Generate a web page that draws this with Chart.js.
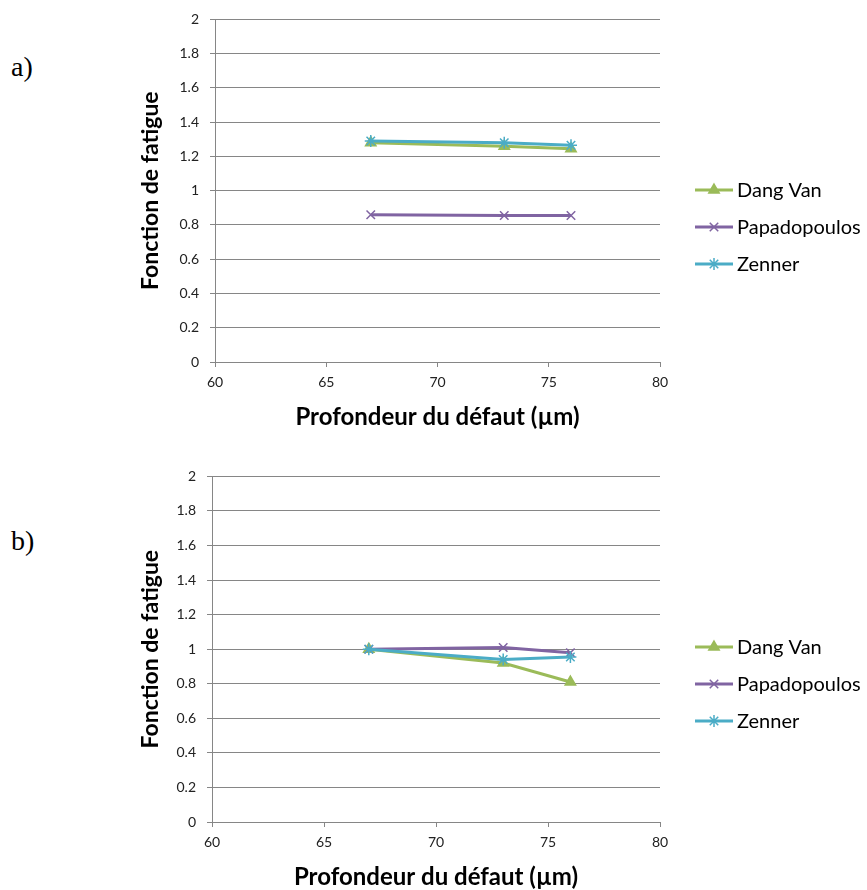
<!DOCTYPE html>
<html>
<head>
<meta charset="utf-8">
<script src="https://cdn.jsdelivr.net/npm/chart.js@4.4.1/dist/chart.umd.min.js"></script>
<style>
  html, body { margin: 0; padding: 0; background: #fff; overflow: hidden; }
  #page { position: relative; width: 867px; height: 890px; }
  .tag { position: absolute; left: 11px; font-family: "Liberation Serif", "DejaVu Serif", serif; font-size: 28px; line-height: 1; color: #000; }
  .wrap { position: absolute; left: 0; width: 867px; }
</style>
</head>
<body>
<div id="page">
  <div class="tag" style="top:53px">a)</div>
  <div class="tag" style="top:527px">b)</div>
  <div class="wrap" style="top:0; height:432px"><canvas id="chartA"></canvas></div>
  <div class="wrap" style="top:457px; height:435px"><canvas id="chartB"></canvas></div>
</div>
<script>
// defect depth (µm)
const depths = [67, 73, 76];
const seriesNames = ['Dang Van', 'Papadopoulos', 'Zenner'];

// a) fatigue function
const dangVanA = [1.28, 1.26, 1.245];
const papadopoulosA = [0.86, 0.855, 0.855];
const zennerA = [1.29, 1.28, 1.265];

// b) fatigue function
const dangVanB = [1.0, 0.92, 0.81];
const papadopoulosB = [1.0, 1.01, 0.98];
const zennerB = [1.0, 0.94, 0.955];

const xTicks = [60, 65, 70, 75, 80];
const yTicks = [0, 0.2, 0.4, 0.6, 0.8, 1, 1.2, 1.4, 1.6, 1.8, 2];

const colors = ['#9BBB59', '#8064A2', '#4BACC6'];
const styles = ['triangle', 'crossRot', 'star'];
const legendY = [190, 227, 264];
const FONT = 'Lato, "Open Sans", sans-serif';

function pts(vals) {
  return vals.map((v, i) => ({ x: depths[i], y: v }));
}

// draws the legend to the right of the plot
const sideLegend = {
  id: 'sideLegend',
  afterDraw(chart) {
    const ctx = chart.ctx;
    ctx.save();
    chart.data.datasets.forEach((ds, i) => {
      const y = legendY[i];
      ctx.strokeStyle = ds.borderColor;
      ctx.lineWidth = 3;
      ctx.beginPath();
      ctx.moveTo(695, y);
      ctx.lineTo(733, y);
      ctx.stroke();
      ctx.fillStyle = ds.borderColor;
      ctx.lineWidth = 1.5;
      Chart.helpers.drawPoint(ctx, { pointStyle: ds.pointStyle, radius: 6, rotation: 0, borderWidth: 1.5 }, 714, y);
      ctx.fillStyle = '#000';
      ctx.font = '20px ' + FONT;
      ctx.textBaseline = 'middle';
      ctx.fillText(ds.label, 737, y + 1);
    });
    ctx.restore();
  }
};

function makeChart(id, values, yWidth) {
  const ctx = document.getElementById(id).getContext('2d');
  return new Chart(ctx, {
    type: 'line',
    data: {
      datasets: values.map((vals, i) => ({
        label: seriesNames[i],
        data: pts(vals),
        borderColor: colors[i],
        backgroundColor: colors[i],
        borderWidth: 3,
        pointStyle: styles[i],
        pointRadius: 6,
        pointBorderWidth: 1.5,
        pointHoverRadius: 6,
        tension: 0,
        order: 2 - i
      }))
    },
    options: {
      responsive: true,
      maintainAspectRatio: false,
      animation: false,
      layout: { padding: { top: 19, right: 207, left: 136, bottom: 0 } },
      plugins: { legend: { display: false }, tooltip: { enabled: false } },
      scales: {
        x: {
          type: 'linear',
          min: 60, max: 80,
          afterBuildTicks: (s) => { s.ticks = xTicks.map(v => ({ value: v })); },
          afterFit: (s) => { s.height = 70; },
          border: { color: '#868686', width: 1 },
          grid: { drawOnChartArea: false, drawTicks: true, tickLength: 5, color: '#868686' },
          ticks: { padding: 7, color: '#222', font: { family: FONT, size: 14 } },
          title: {
            display: true, text: 'Profondeur du défaut (µm)', color: '#000',
            font: { family: FONT, size: 24, weight: 'bold' },
            padding: { top: 4, bottom: 0 }
          }
        },
        y: {
          min: 0, max: 2,
          afterBuildTicks: (s) => { s.ticks = yTicks.map(v => ({ value: v })); },
          afterFit: (s) => { s.width = yWidth; },
          border: { color: '#868686', width: 1 },
          grid: { color: '#868686', drawTicks: true, tickLength: 5 },
          ticks: {
            padding: 11, color: '#222', font: { family: FONT, size: 14 },
            callback: (v) => String(+v.toFixed(1))
          },
          title: {
            display: true, text: 'Fonction de fatigue', color: '#000',
            font: { family: FONT, size: 23, weight: 'bold' },
            padding: { top: 1, bottom: 0 }
          }
        }
      }
    },
    plugins: [sideLegend]
  });
}

makeChart('chartA', [dangVanA, papadopoulosA, zennerA], 79);
makeChart('chartB', [dangVanB, papadopoulosB, zennerB], 76);
</script>
</body>
</html>
